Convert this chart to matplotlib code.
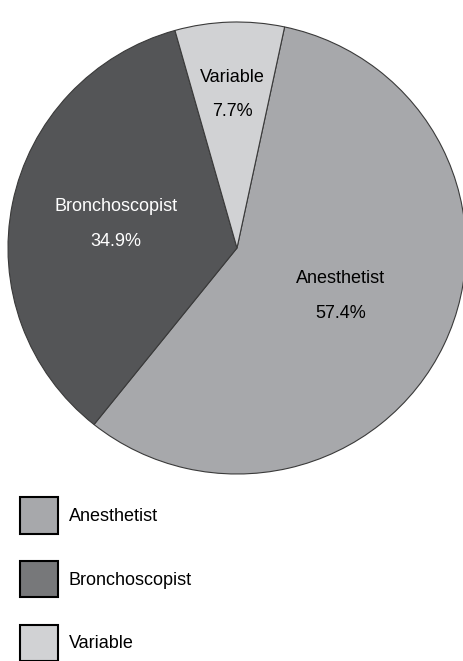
import numpy as np
import matplotlib
matplotlib.use('Agg')
import matplotlib.pyplot as plt
from matplotlib.patches import Patch

plt.rcParams['font.family'] = ['Liberation Sans', 'DejaVu Sans']

# data
labels = ['Anesthetist', 'Bronchoscopist', 'Variable']
shares = [57.4, 34.9, 7.7]
pie_colors = ['#a7a8ab', '#545557', '#d1d2d4']
legend_colors = ['#a7a8ab', '#77787a', '#d1d2d4']
text_colors = ['black', 'white', 'black']
label_radius = [0.5, 0.54, 0.68]

fig = plt.figure(figsize=(4.64, 6.61), dpi=100)
fig.patch.set_facecolor('white')

# pie axes (slightly taller than wide, like the scan)
ax = fig.add_axes([8 / 464, (661 - 474) / 661, 458 / 464, 452 / 661])
wedges, _ = ax.pie(
    shares, colors=pie_colors, startangle=78, counterclock=False,
    wedgeprops={'edgecolor': '#3a3a3a', 'linewidth': 0.8}
)
ax.set_aspect('auto')
ax.set_xlim(-1, 1)
ax.set_ylim(-1, 1)
ax.axis('off')

# label + percent inside each wedge
for w, lab, val, col, r in zip(wedges, labels, shares, text_colors, label_radius):
    ang = np.deg2rad((w.theta1 + w.theta2) / 2)
    x, y = r * np.cos(ang), r * np.sin(ang)
    ax.annotate(lab, (x, y), xytext=(0, 12.5), textcoords='offset points',
                ha='center', va='center', fontsize=13, color=col)
    ax.annotate(f'{val:.1f}%', (x, y), xytext=(0, -12.5), textcoords='offset points',
                ha='center', va='center', fontsize=13, color=col)

# legend below, last entry runs off the bottom
handles = [Patch(facecolor=c, edgecolor='black', linewidth=1.5) for c in legend_colors]
fig.legend(
    handles, labels,
    loc='upper left',
    bbox_to_anchor=(20 / 464, 1 - 497 / 661),
    frameon=False,
    fontsize=13,
    handlelength=2.1,
    handleheight=2.75,
    handletextpad=0.6,
    labelspacing=1.5,
    borderpad=0,
    borderaxespad=0
)

fig.savefig('out.png', dpi=100, facecolor='white')
